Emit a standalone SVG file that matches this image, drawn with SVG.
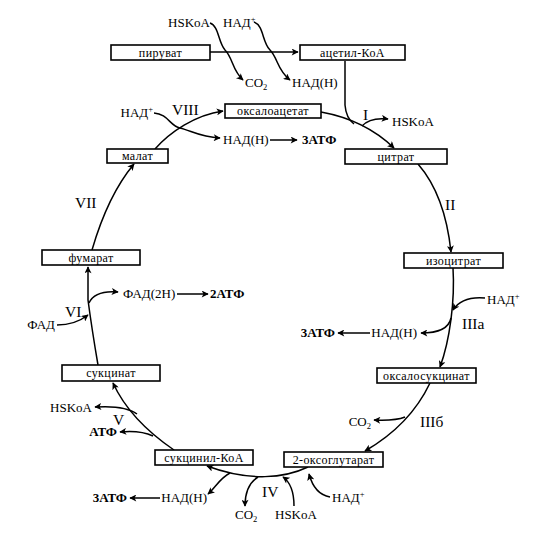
<svg xmlns="http://www.w3.org/2000/svg" width="537" height="534" viewBox="0 0 537 534">
<style>
.box{fill:#fff;stroke:#000;stroke-width:1.6}
.bl{font-family:"Liberation Serif","DejaVu Serif",serif;font-size:12px;letter-spacing:0.4px;text-anchor:middle;fill:#000}
.t{font-family:"Liberation Serif","DejaVu Serif",serif;font-size:13px;fill:#000}
.e{text-anchor:end}
.b{font-weight:bold}
.r{font-family:"Liberation Serif","DejaVu Serif",serif;font-size:15.5px;fill:#000}
.c{fill:none;stroke:#000;stroke-width:1.5}
.sup{font-size:8.5px}
</style>
<defs>
<marker id="ah" viewBox="0 0 10 10" refX="9" refY="5" markerWidth="9" markerHeight="7" orient="auto" markerUnits="userSpaceOnUse">
<path d="M0,0 L10,5 L0,10 L2.5,5 z" fill="#000"/>
</marker>
</defs>
<rect width="537" height="534" fill="#fff"/>
<g id="connectors">
<path class="c" d="M210,52 L298,52" marker-end="url(#ah)"/>
<path class="c" d="M210,23 C219,26 218,42 225,50 C233,58 232,70 243,80" marker-end="url(#ah)"/>
<path class="c" d="M254,22 C264,26 262,42 270,50 C278,58 277,70 290,80" marker-end="url(#ah)"/>
<path class="c" d="M345,61 L345,105 Q346,118 354,124"/>
<path class="c" d="M321,112 Q365,120 394,148" marker-end="url(#ah)"/>
<path class="c" d="M362,126 Q370,117 388,119" marker-end="url(#ah)"/>
<path class="c" d="M418,164 Q445,195 451,252" marker-end="url(#ah)"/>
<path class="c" d="M453,268 C455,300 450,340 440,367" marker-end="url(#ah)"/>
<path class="c" d="M485,298 Q462,296 453,310" marker-end="url(#ah)"/>
<path class="c" d="M451,318 Q448,333 421,333" marker-end="url(#ah)"/>
<path class="c" d="M370,333 L338,333" marker-end="url(#ah)"/>
<path class="c" d="M430,383 Q410,425 365,451" marker-end="url(#ah)"/>
<path class="c" d="M405,417 Q395,421 374,420" marker-end="url(#ah)"/>
<path class="c" d="M308,467 C285,478 250,482 207,466" marker-end="url(#ah)"/>
<path class="c" d="M330,497 C318,495 312,485 309,474" marker-end="url(#ah)"/>
<path class="c" d="M294,506 C294,490 290,482 283,477" marker-end="url(#ah)"/>
<path class="c" d="M258,477 C250,482 245,492 245,506" marker-end="url(#ah)"/>
<path class="c" d="M230,473 C220,478 215,488 208,494" marker-end="url(#ah)"/>
<path class="c" d="M160,498 L130,498" marker-end="url(#ah)"/>
<path class="c" d="M174,450 Q130,420 113,383" marker-end="url(#ah)"/>
<path class="c" d="M137,414 Q125,405 95,407" marker-end="url(#ah)"/>
<path class="c" d="M153,436 Q140,430 120,432" marker-end="url(#ah)"/>
<path class="c" d="M98,365 Q92,330 88,300 L88,267" marker-end="url(#ah)"/>
<path class="c" d="M57,325 Q75,325 88,315" marker-end="url(#ah)"/>
<path class="c" d="M89,303 Q95,290 118,292" marker-end="url(#ah)"/>
<path class="c" d="M177,294 L208,294" marker-end="url(#ah)"/>
<path class="c" d="M92,250 Q108,195 134,164" marker-end="url(#ah)"/>
<path class="c" d="M155,149 C170,132 195,115 223,111" marker-end="url(#ah)"/>
<path class="c" d="M154,113 C168,114 170,126 180,128 C192,131 200,137 220,138" marker-end="url(#ah)"/>
<path class="c" d="M270,140 L297,140" marker-end="url(#ah)"/>
</g>
<g id="piruvat"><rect class="box" x="111" y="45" width="99" height="15"/><text class="bl" x="160.5" y="56.5">пируват</text></g>
<g id="acetyl-coa"><rect class="box" x="300" y="45" width="105" height="15"/><text class="bl" x="352.5" y="56.5">ацетил-КоА</text></g>
<g id="oxaloacetate"><rect class="box" x="225" y="104" width="96" height="14"/><text class="bl" x="273" y="115">оксалоацетат</text></g>
<g id="citrate"><rect class="box" x="345" y="149" width="102" height="15"/><text class="bl" x="396" y="160.5">цитрат</text></g>
<g id="malate"><rect class="box" x="107" y="149" width="61" height="14"/><text class="bl" x="137.5" y="160">малат</text></g>
<g id="isocitrate"><rect class="box" x="404" y="253" width="99" height="15"/><text class="bl" x="453.5" y="264.5">изоцитрат</text></g>
<g id="fumarate"><rect class="box" x="42" y="250" width="98" height="15"/><text class="bl" x="91" y="261.5">фумарат</text></g>
<g id="succinate"><rect class="box" x="62" y="365" width="98" height="16"/><text class="bl" x="111" y="377">сукцинат</text></g>
<g id="oxalosuccinate"><rect class="box" x="377" y="368" width="99" height="15"/><text class="bl" x="426.5" y="379.5">оксалосукцинат</text></g>
<g id="succinyl-coa"><rect class="box" x="155" y="450" width="98" height="15"/><text class="bl" x="204" y="461.5">сукцинил-КоА</text></g>
<g id="oxoglutarate"><rect class="box" x="284" y="452" width="99" height="15"/><text class="bl" x="333.5" y="463.5">2-оксоглутарат</text></g>
<g id="labels">
<text class="t e" x="210" y="27">HSKoA</text>
<text class="t" x="223" y="27">НАД<tspan class="sup" dy="-5">+</tspan></text>
<text class="t" x="245" y="87">CO<tspan class="sup" dy="3">2</tspan></text>
<text class="t" x="292" y="87">НАД(Н)</text>
<text class="t e" x="153" y="117">НАД<tspan class="sup" dy="-5">+</tspan></text>
<text class="r" x="172" y="115">VIII</text>
<text class="r" x="363" y="120">I</text>
<text class="t" x="392" y="126">HSKoA</text>
<text class="t" x="223" y="144">НАД(Н)</text>
<text class="t b" x="302" y="144">3АТФ</text>
<text class="r" x="75" y="208">VII</text>
<text class="r" x="445" y="210">II</text>
<text class="t" x="123" y="298">ФАД(2Н)</text>
<text class="t b" x="210" y="298">2АТФ</text>
<text class="t" x="487" y="304">НАД<tspan class="sup" dy="-5">+</tspan></text>
<text class="r" x="65" y="317">VI</text>
<text class="t e" x="55" y="329">ФАД</text>
<text class="r" x="462" y="329">IIIа</text>
<text class="t e" x="417" y="337">НАД(Н)</text>
<text class="t b e" x="335" y="337">3АТФ</text>
<text class="t e" x="92" y="412">HSKoA</text>
<text class="r" x="113" y="425">V</text>
<text class="t e" x="371" y="426">CO<tspan class="sup" dy="3">2</tspan></text>
<text class="r" x="420" y="427">IIIб</text>
<text class="t b e" x="117" y="436">АТФ</text>
<text class="r" x="262" y="497">IV</text>
<text class="t b e" x="127" y="502">3АТФ</text>
<text class="t e" x="207" y="502">НАД(Н)</text>
<text class="t" x="332" y="502">НАД<tspan class="sup" dy="-5">+</tspan></text>
<text class="t" x="235" y="519">CO<tspan class="sup" dy="3">2</tspan></text>
<text class="t" x="275" y="519">HSKoA</text>
</g>
</svg>
